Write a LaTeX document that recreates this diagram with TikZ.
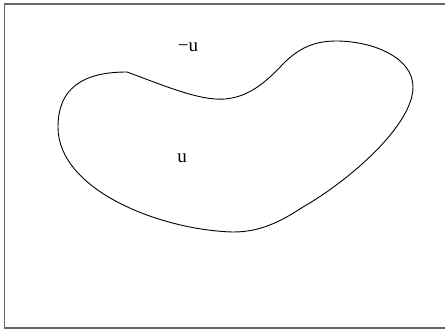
\documentclass[tikz,border=0pt]{standalone}
\usepackage{fontspec}
\setmainfont{Liberation Serif}
\begin{document}
\begin{tikzpicture}[x=1pt,y=-1pt,
  lbl/.style={font=\fontsize{19}{22}\selectfont, inner sep=0pt},
  curve/.style={draw=black, line width=0.9pt},
  frame/.style={draw=black!60, line width=1.2pt}]
\useasboundingbox (0,0) rectangle (445,333);
\draw[frame] (447,4) -- (4.5,4) -- (4.5,328) -- (447,328);
\draw[curve] (127,72) .. controls (165,86) and (200,101) .. (225,99)
  .. controls (250,97) and (268,80) .. (283,64)
  .. controls (298,49) and (313,41) .. (336,41)
  .. controls (372,41) and (413,57) .. (413,87)
  .. controls (413,125) and (350,180) .. (303,207)
  .. controls (280,222) and (260,232) .. (233,232)
  .. controls (160,230) and (58,190) .. (58,127)
  .. controls (58,80) and (95,72) .. (127,72);
\node[lbl] (negu) at (188,47) {−u};
\node[lbl] (u) at (182,158) {u};
\end{tikzpicture}
\end{document}
